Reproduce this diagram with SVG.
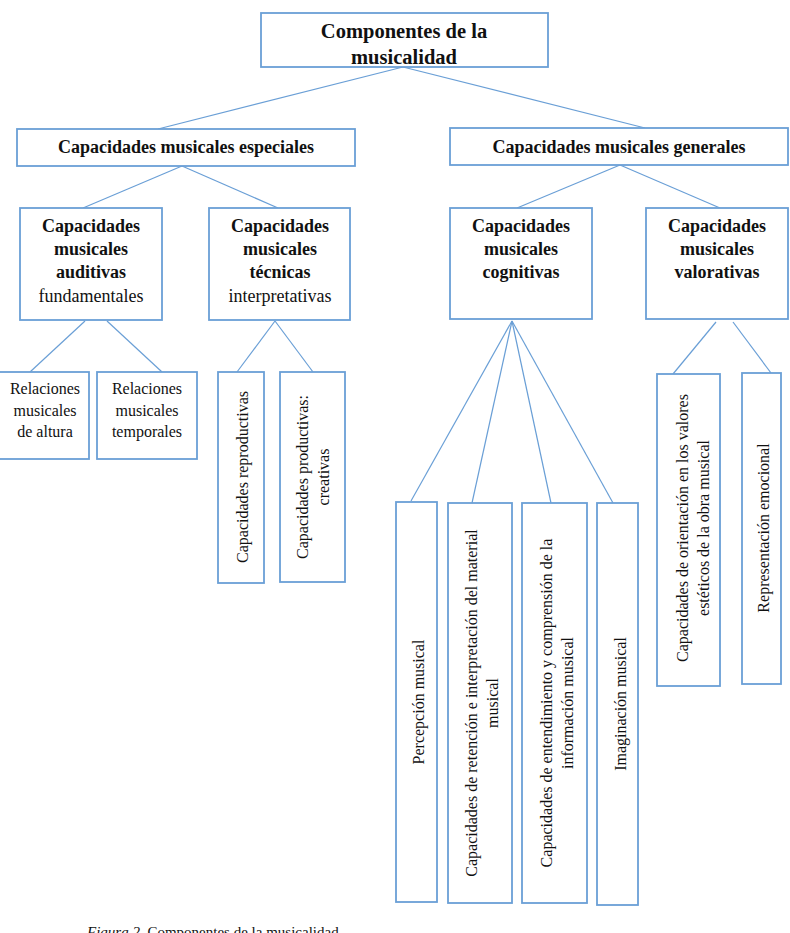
<svg xmlns="http://www.w3.org/2000/svg" width="790" height="933" viewBox="0 0 790 933">
<style>
.box{fill:#ffffff;stroke:#6a9fd6;stroke-width:1.8}
.ln{stroke:#6a9fd6;stroke-width:1.2;fill:none}
text{font-family:"Liberation Serif","Times New Roman",serif;fill:#111}
.t{font-size:20.5px;font-weight:bold;text-anchor:middle}
.b{font-size:18px;font-weight:bold;text-anchor:middle}
.r{font-size:18px;text-anchor:middle}
.s{font-size:16px;text-anchor:middle}
.cap{font-size:15px}
</style>
<rect width="790" height="933" fill="#ffffff"/>
<g id="connectors">
<line class="ln" x1="403" y1="67" x2="158" y2="129"/>
<line class="ln" x1="403" y1="67" x2="645" y2="128"/>
<line class="ln" x1="182" y1="166" x2="83" y2="208"/>
<line class="ln" x1="182" y1="166" x2="278" y2="208"/>
<line class="ln" x1="620" y1="165" x2="517" y2="208"/>
<line class="ln" x1="620" y1="165" x2="720" y2="208"/>
<line class="ln" x1="85" y1="321" x2="30" y2="372"/>
<line class="ln" x1="107" y1="321" x2="162" y2="372"/>
<line class="ln" x1="275" y1="321" x2="237" y2="372"/>
<line class="ln" x1="275" y1="321" x2="313" y2="372"/>
<line class="ln" x1="512" y1="321" x2="411" y2="501"/>
<line class="ln" x1="512" y1="321" x2="472" y2="503"/>
<line class="ln" x1="512" y1="321" x2="551" y2="503"/>
<line class="ln" x1="512" y1="321" x2="613" y2="503"/>
<line class="ln" x1="716" y1="322" x2="673" y2="374"/>
<line class="ln" x1="733" y1="322" x2="771" y2="373"/>
</g>
<g id="n-root">
<rect class="box" x="261" y="13" width="287" height="54"/>
<text class="t" x="404" y="38">Componentes de la</text>
<text class="t" x="404" y="64">musicalidad</text>
</g>
<g id="n-especiales">
<rect class="box" x="17" y="129" width="338" height="37"/>
<text class="b" x="186" y="153">Capacidades musicales especiales</text>
</g>
<g id="n-generales">
<rect class="box" x="450" y="128" width="338" height="37"/>
<text class="b" x="619" y="153">Capacidades musicales generales</text>
</g>
<g id="n-auditivas">
<rect class="box" x="20" y="208" width="142" height="112"/>
<text class="b" x="91" y="232">Capacidades</text>
<text class="b" x="91" y="255">musicales</text>
<text class="b" x="91" y="278">auditivas</text>
<text class="r" x="91" y="302">fundamentales</text>
</g>
<g id="n-tecnicas">
<rect class="box" x="209" y="208" width="141" height="112"/>
<text class="b" x="280" y="232">Capacidades</text>
<text class="b" x="280" y="255">musicales</text>
<text class="b" x="280" y="278">técnicas</text>
<text class="r" x="280" y="302">interpretativas</text>
</g>
<g id="n-cognitivas">
<rect class="box" x="450" y="208" width="142" height="111"/>
<text class="b" x="521" y="232">Capacidades</text>
<text class="b" x="521" y="255">musicales</text>
<text class="b" x="521" y="278">cognitivas</text>
</g>
<g id="n-valorativas">
<rect class="box" x="646" y="208" width="142" height="111"/>
<text class="b" x="717" y="232">Capacidades</text>
<text class="b" x="717" y="255">musicales</text>
<text class="b" x="717" y="278">valorativas</text>
</g>
<g id="n-altura">
<rect class="box" x="-3" y="372" width="92" height="87"/>
<text class="s" x="45" y="394">Relaciones</text>
<text class="s" x="45" y="415.5">musicales</text>
<text class="s" x="45" y="437">de altura</text>
</g>
<g id="n-temporales">
<rect class="box" x="97" y="372" width="100" height="87"/>
<text class="s" x="147" y="394">Relaciones</text>
<text class="s" x="147" y="415.5">musicales</text>
<text class="s" x="147" y="437">temporales</text>
</g>
<g id="n-reproductivas">
<rect class="box" x="218" y="372" width="46" height="211"/>
<text class="s" transform="translate(242,477) rotate(-90)" x="0" y="5.5">Capacidades reproductivas</text>
</g>
<g id="n-productivas">
<rect class="box" x="280" y="372" width="65" height="210"/>
<g transform="translate(312.5,477) rotate(-90)">
<text class="s" x="0" y="-5">Capacidades productivas:</text>
<text class="s" x="0" y="16">creativas</text>
</g>
</g>
<g id="n-percepcion">
<rect class="box" x="396" y="502" width="41" height="400"/>
<text class="s" transform="translate(418,702) rotate(-90)" x="0" y="5.5">Percepción musical</text>
</g>
<g id="n-retencion">
<rect class="box" x="448" y="503" width="64" height="400"/>
<g transform="translate(481.5,703) rotate(-90)">
<text class="s" x="0" y="-5">Capacidades de retención e interpretación del material</text>
<text class="s" x="0" y="16">musical</text>
</g>
</g>
<g id="n-entendimiento">
<rect class="box" x="522" y="503" width="65" height="400"/>
<g transform="translate(556.5,703) rotate(-90)">
<text class="s" x="0" y="-5">Capacidades de entendimiento y comprensión de la</text>
<text class="s" x="0" y="16">información musical</text>
</g>
</g>
<g id="n-imaginacion">
<rect class="box" x="597" y="503" width="41" height="402"/>
<text class="s" transform="translate(620,704) rotate(-90)" x="0" y="5.5">Imaginación musical</text>
</g>
<g id="n-orientacion">
<rect class="box" x="657" y="374" width="63" height="312"/>
<g transform="translate(692.5,528) rotate(-90)">
<text class="s" x="0" y="-5">Capacidades de orientación en los valores</text>
<text class="s" x="0" y="16">estéticos de la obra musical</text>
</g>
</g>
<g id="n-emocional">
<rect class="box" x="742" y="373" width="39" height="311"/>
<text class="s" transform="translate(763,528) rotate(-90)" x="0" y="5.5">Representación emocional</text>
</g>
<text class="cap" x="87" y="937"><tspan font-style="italic">Figura 2.</tspan> Componentes de la musicalidad</text>
</svg>
